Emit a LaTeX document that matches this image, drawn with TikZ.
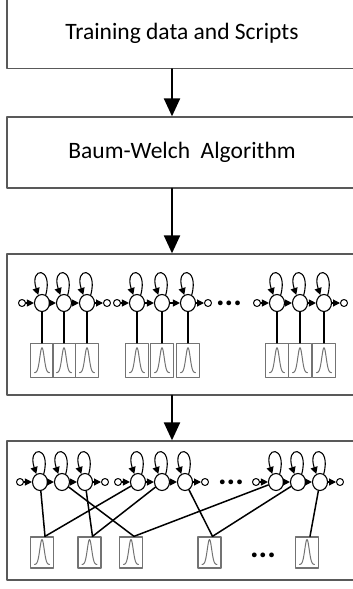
\documentclass[tikz,border=0pt]{standalone}
\usepackage{fontspec}
\setmainfont{Carlito}
\usepackage{tikz}
\tikzset{>=latex}
\usetikzlibrary{shapes,arrows,arrows.meta}
\usetikzlibrary{calc}
\usetikzlibrary{positioning}

\tikzset{
  stage/.style={draw=black!65,line width=1.3pt,minimum width=350pt,inner sep=0pt,
    font=\fontsize{23.5}{27}\selectfont},
  bigarrow/.style={line width=2.2pt,-{Triangle[length=18pt,width=16pt]}},
  hstate/.style={ellipse,draw,fill=white,line width=1.1pt,minimum width=15pt,minimum height=17pt,inner sep=0pt},
  hend/.style={circle,draw,fill=white,line width=1pt,minimum size=7pt,inner sep=0pt},
  trans/.style={line width=1.1pt,-{Triangle[length=7pt,width=7pt]}},
  selfloop/.style={line width=1.1pt,-{Triangle[length=7pt,width=7pt]}},
  gbox/.style={draw=black!55,line width=1.3pt,minimum width=23pt,inner sep=0pt,
    path picture={\draw[line width=1pt,shift={(path picture bounding box.center)}]
      plot[domain=-7.5:7.5,samples=40,smooth] (\x,{12-25*exp(-(\x/3.1)^2)});}},
  dotsnode/.style={font=\bfseries\fontsize{32}{32}\selectfont,inner sep=0pt},
}

% one left-to-right chain of three states with entry and exit
\newcommand{\hmmchain}[5]{%
  \node[hstate] (#1a) at (#3,#2) {};
  \node[hstate] (#1b) at (#4,#2) {};
  \node[hstate] (#1c) at (#5,#2) {};
  \node[hend] (#1in) at ($(#1a)-(20,0)$) {};
  \node[hend] (#1out) at ($(#1c)+(20,0)$) {};
  \draw[trans] (#1in) -- (#1a);
  \draw[trans] (#1a) -- (#1b);
  \draw[trans] (#1b) -- (#1c);
  \draw[trans] (#1c) -- (#1out);
  \foreach \s in {a,b,c}
    \draw[selfloop] (#1\s.65) .. controls +(75:30pt) and +(108:30pt) .. (#1\s.115);
}

\begin{document}
\begin{tikzpicture}[x=1pt,y=-1pt,line cap=round,line join=round]
	\useasboundingbox (0,0) rectangle (353,589);
	% the four stages
	\node[stage,minimum height=71pt] (train) at (182,33) {Training data and Scripts};
	\node[stage,minimum height=71pt] (baum) at (182,152.5) {Baum-Welch\ \ Algorithm};
	\node[stage,minimum height=141pt] (hmmbox) at (182,324.5) {};
	\node[stage,minimum height=139pt] (tiedbox) at (182,510.5) {};
	\draw[bigarrow] ([xshift=-10pt]train.south) -- ([xshift=-10pt]baum.north);
	\draw[bigarrow] ([xshift=-10pt]baum.south) -- ([xshift=-10pt]hmmbox.north);
	\draw[bigarrow] ([xshift=-10pt]hmmbox.south) -- ([xshift=-10pt]tiedbox.north);

	% untied models
	\hmmchain{m1}{303}{42}{64}{87}
	\hmmchain{m2}{303}{137}{162}{188}
	\hmmchain{m3}{303}{277}{300}{324}
	\node[dotsnode] (mdots) at (229,303) {...};
	\foreach \s in {m1a,m1b,m1c,m2a,m2b,m2c,m3a,m3b,m3c}{
		\node[gbox,minimum height=34pt,below=31pt of \s] (e\s) {};
		\draw[line width=1.1pt] (\s) -- (e\s);
	}

	% tied models
	\hmmchain{t1}{482}{40}{62}{85}
	\hmmchain{t2}{482}{138}{162}{185}
	\hmmchain{t3}{482}{276}{298}{320}
	\node[dotsnode] (tdots) at (231,482) {...};
	\foreach \n/\x in {g1/42,g2/89.5,g3/131,g4/209.5,g5/307}
		\node[gbox,minimum height=31pt] (\n) at (\x,552.5) {};
	\node[dotsnode] (gdots) at (263,555) {...};
	\foreach \s/\g in {t1a/g1,t1b/g3,t1c/g2,t2a/g1,t2b/g2,t2c/g4,t3a/g3,t3b/g4,t3c/g5}
		\draw[line width=1.5pt] (\s) -- ([xshift=3pt]\g.north);
\end{tikzpicture}
\end{document}
